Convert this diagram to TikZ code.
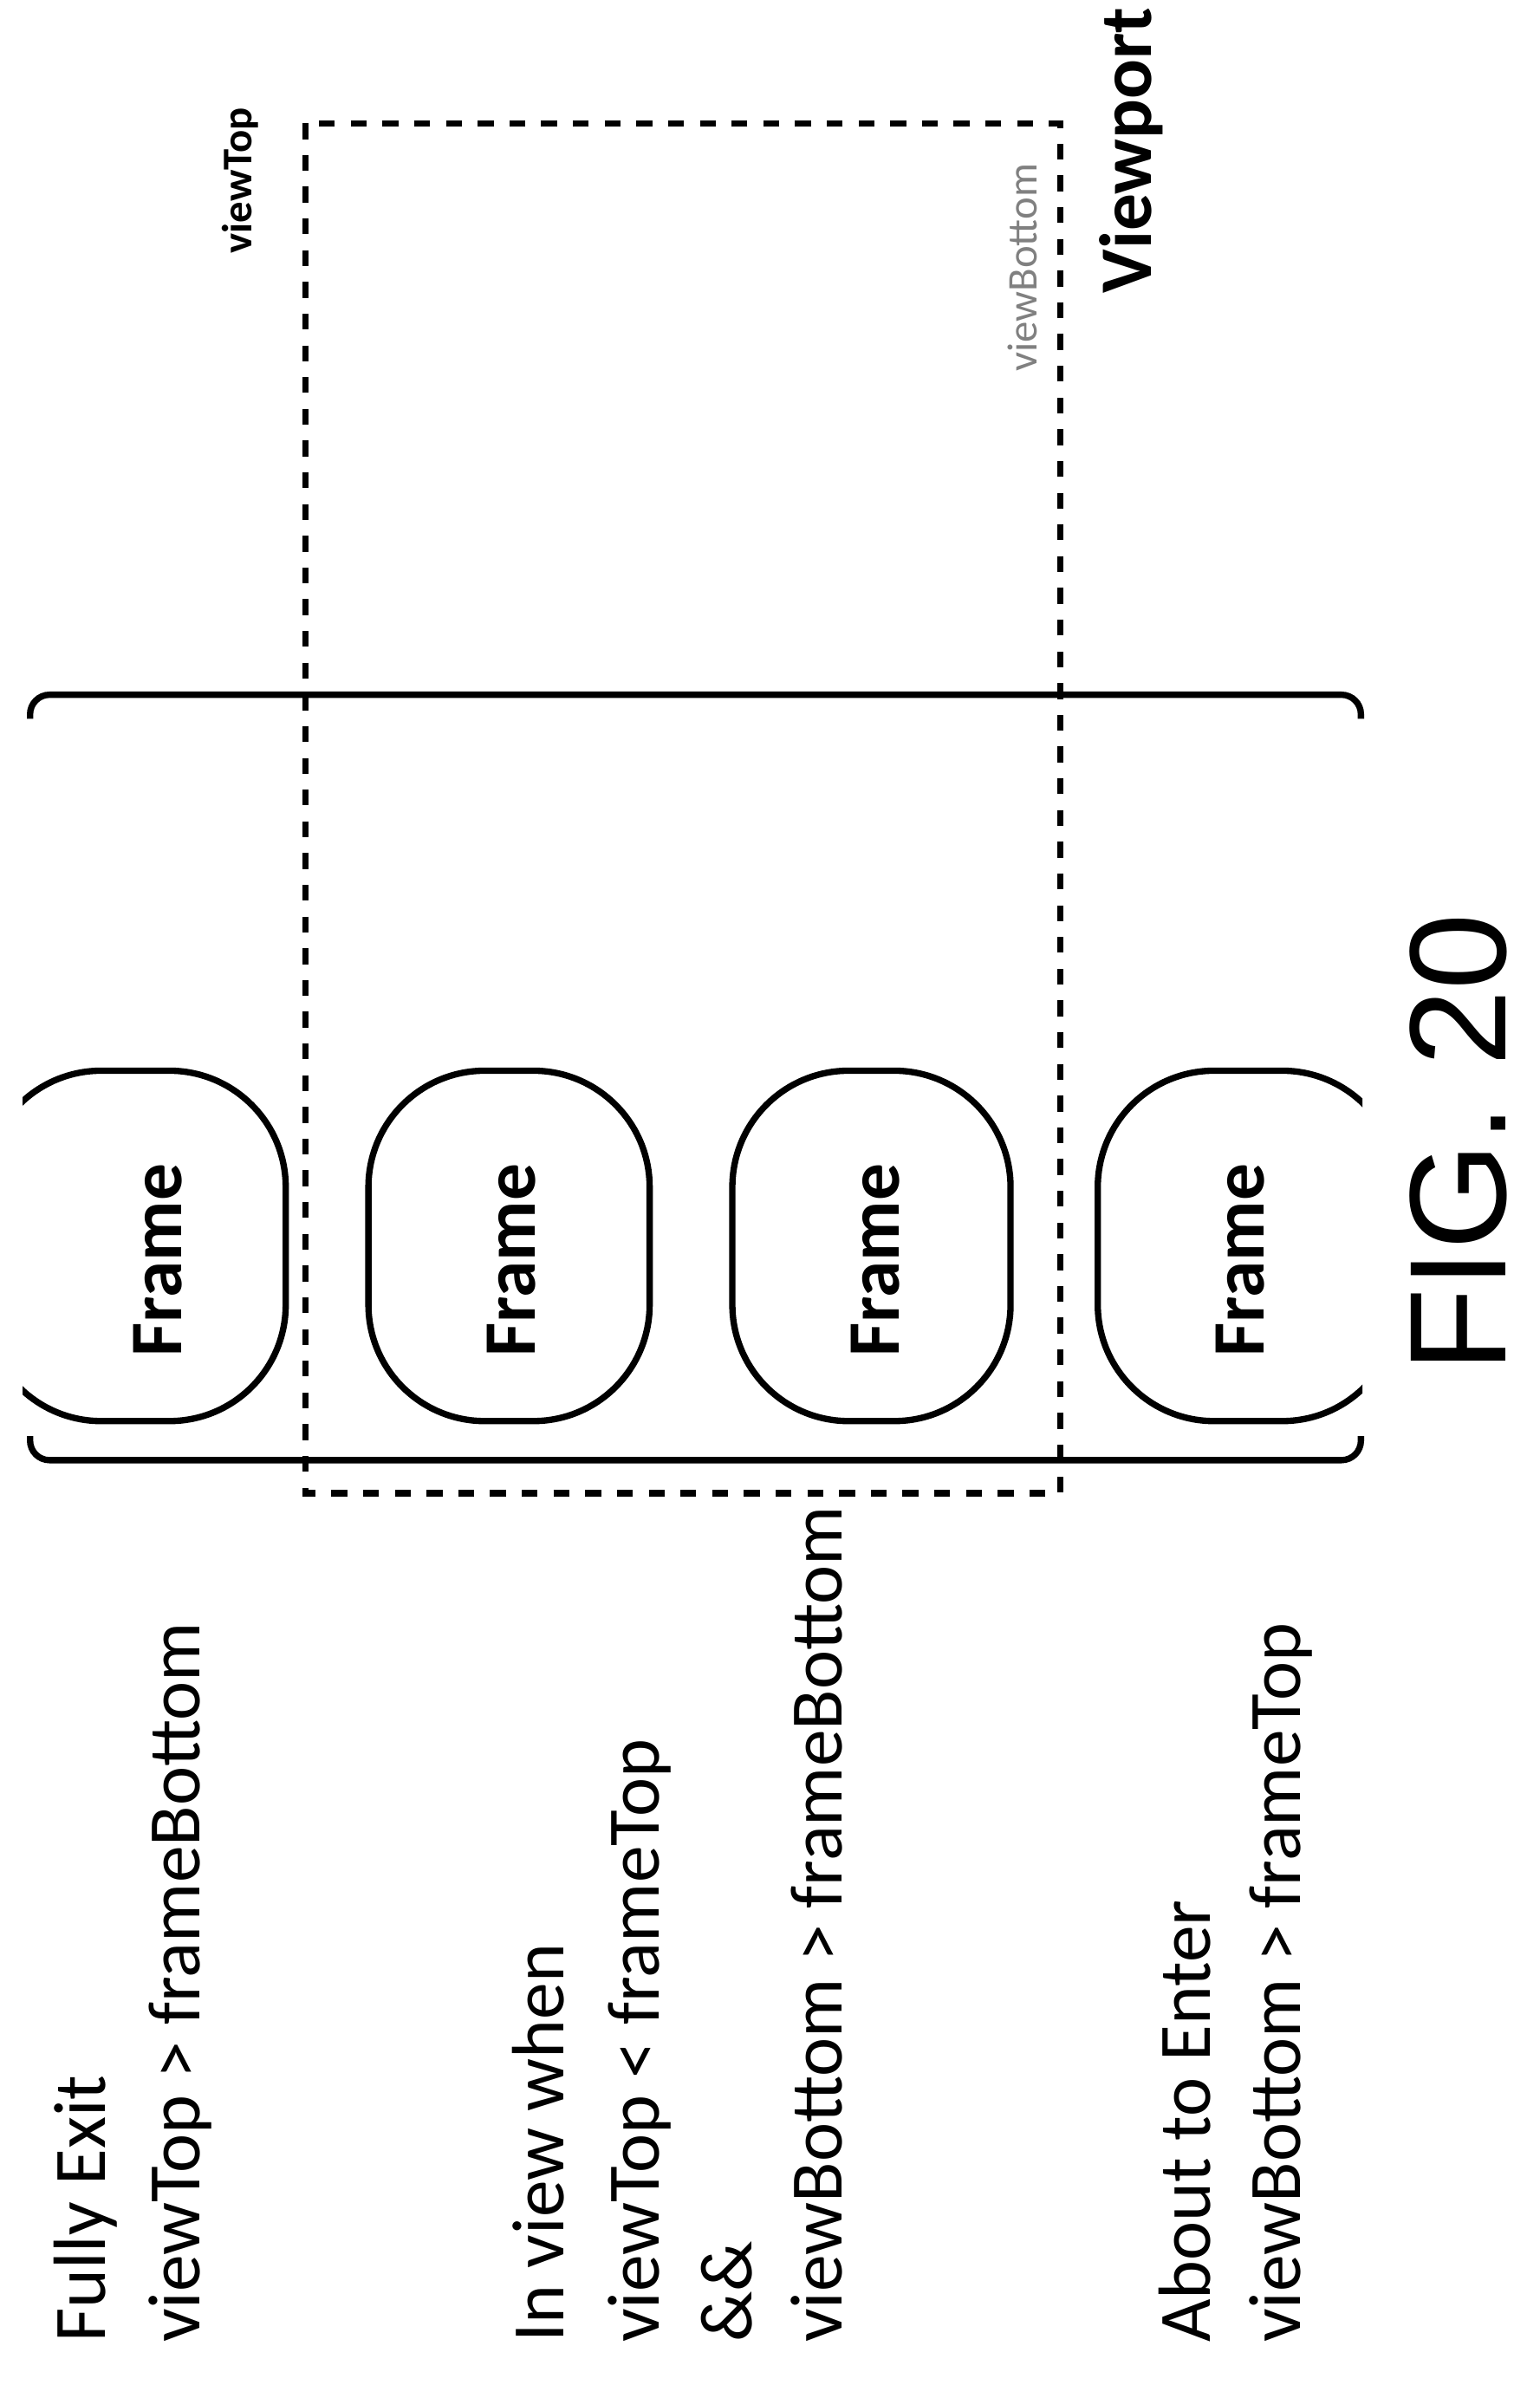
\documentclass[tikz,border=0pt]{standalone}
\usepackage{fontspec}
\setmainfont{Carlito}
\newfontfamily\figfont{Liberation Sans}
\usetikzlibrary{positioning}

\begin{document}
\begin{tikzpicture}[x=0.01cm,y=-0.01cm,
	frame/.style={draw, line width=1.2pt, rounded corners=22pt},
	label/.style={rotate=90, anchor=base west, font=\fontsize{14}{16}\selectfont},
	fname/.style={rotate=90, font=\bfseries\fontsize{14}{16}\selectfont}]
	\useasboundingbox (0,0) rectangle (1024,1586);

	% viewport
	\draw[dashed, line width=1.2pt] (203,82) rectangle (705,993);
	\node[rotate=90, font=\bfseries\fontsize{8}{10}\selectfont] (vtop) at (160,120) {viewTop};
	\node[rotate=90, text=gray, font=\fontsize{8}{10}\selectfont] (vbot) at (680,178) {viewBottom};
	\node[rotate=90, font=\bfseries\fontsize{14}{16}\selectfont] (vport) at (752,100) {Viewport};

	% strip
	\draw[line width=1.2pt] (20,478) -- (20,475) arc[start angle=180,end angle=270,radius=13] -- (892,462) arc[start angle=270,end angle=360,radius=13] -- (905,478);
	\draw[line width=1.2pt] (20,955) -- (20,958) arc[start angle=180,end angle=90,radius=13] -- (892,971) arc[start angle=90,end angle=0,radius=13] -- (905,955);

	% frames
	\begin{scope}
		\clip (15,700) rectangle (906,960);
		\draw[frame] (-10,712) rectangle (190,945);
		\draw[frame] (245,712) rectangle (432,945);
		\draw[frame] (487,712) rectangle (672,945);
		\draw[frame] (730,712) rectangle (930,945);
	\end{scope}
	\node[fname] (f1) at (105,838) {Frame};
	\node[fname] (f2) at (340,838) {Frame};
	\node[fname] (f3) at (582,838) {Frame};
	\node[fname] (f4) at (825,838) {Frame};

	% conditions
	\node[label] (exit1) at (70,1570) {Fully Exit};
	\node[label] (exit2) at (133,1570) {viewTop > frameBottom};
	\node[label] (in1) at (375,1570) {In view when};
	\node[label] (in2) at (438,1570) {viewTop < frameTop};
	\node[label] (in3) at (500,1570) {\&\&};
	\node[label] (in4) at (560,1570) {viewBottom > frameBottom};
	\node[label] (enter1) at (805,1570) {About to Enter};
	\node[label] (enter2) at (865,1570) {viewBottom > frameTop};

	\node[rotate=90, font=\figfont\fontsize{26}{30}\selectfont] (fig) at (970,760) {FIG. 20};
\end{tikzpicture}
\end{document}
